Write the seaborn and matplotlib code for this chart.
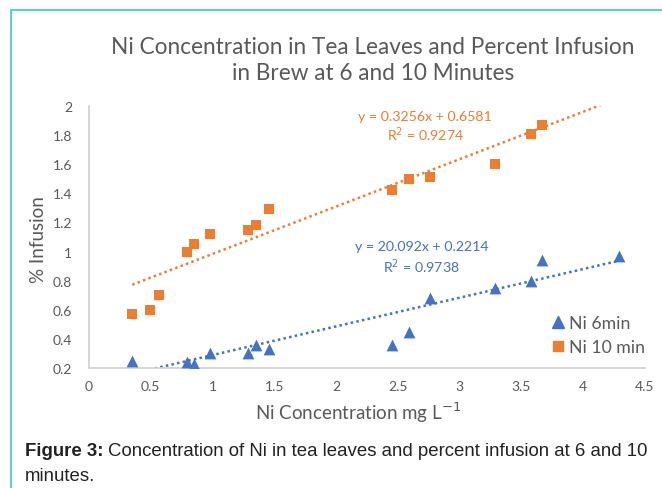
import numpy as np
import pandas as pd
import seaborn as sns
import matplotlib.pyplot as plt
from matplotlib.lines import Line2D

# Ni 10 min (orange squares)
x_10 = [0.35, 0.49, 0.57, 0.79, 0.85, 0.98, 1.29, 1.35, 1.46, 2.45, 2.59, 2.76, 3.29, 3.58, 3.67]
y_10 = [0.57, 0.60, 0.70, 1.00, 1.05, 1.12, 1.15, 1.18, 1.29, 1.42, 1.50, 1.51, 1.60, 1.81, 1.87]

# Ni 6min (blue triangles)
x_6 = [0.35, 0.79, 0.85, 0.98, 1.29, 1.35, 1.46, 2.45, 2.59, 2.76, 3.29, 3.58, 3.67, 4.29]
y_6 = [0.25, 0.24, 0.225, 0.30, 0.30, 0.36, 0.33, 0.36, 0.45, 0.68, 0.75, 0.80, 0.94, 0.97]

# trendlines as drawn (slope, intercept, x range)
trend_10 = (0.3256, 0.6581, [0.35, 4.15])
trend_6 = (0.197, 0.092, [0.35, 4.29])

eq_10 = ["y = 0.3256x + 0.6581", "R$^2$ = 0.9274"]
eq_6 = ["y = 20.092x + 0.2214", "R$^2$ = 0.9738"]

x_ticks = [0, 0.5, 1, 1.5, 2, 2.5, 3, 3.5, 4, 4.5]
y_ticks = [0.2, 0.4, 0.6, 0.8, 1, 1.2, 1.4, 1.6, 1.8, 2]

blue = '#4472C4'
orange = '#ED7D31'
grey = '#595959'

sns.set_style('white')
plt.rcParams['font.family'] = ['Lato', 'DejaVu Sans']

fig = plt.figure(figsize=(6.62, 4.89), dpi=100)
ax = fig.add_axes([89 / 662, 1 - 369 / 489, 556 / 662, 262 / 489])

# trendlines
for (m, b, xr), c in [(trend_10, orange), (trend_6, blue)]:
    xs = np.array(xr)
    sns.lineplot(x=xs, y=m * xs + b, ax=ax, color=c, linestyle=(0, (1, 1.3)),
                 linewidth=1.8, zorder=2)

sns.scatterplot(x=x_6, y=y_6, ax=ax, marker='^', s=72, color=blue,
                edgecolor=blue, linewidth=0, zorder=3)
sns.scatterplot(x=x_10, y=y_10, ax=ax, marker='s', s=50, color=orange,
                edgecolor=orange, linewidth=0, zorder=3)

ax.set_xlim(0, 4.5)
ax.set_ylim(0.2, 2)
ax.set_xticks(x_ticks)
ax.set_xticklabels([f'{t:g}' for t in x_ticks])
ax.set_yticks(y_ticks)
ax.set_yticklabels([f'{t:g}' for t in y_ticks])
ax.tick_params(axis='both', length=0, labelsize=10, colors=grey)
ax.tick_params(axis='x', pad=8.5)
ax.tick_params(axis='y', pad=12)
for s in ['top', 'right']:
    ax.spines[s].set_visible(False)
for s in ['left', 'bottom']:
    ax.spines[s].set_color('#d0d0d0')
    ax.spines[s].set_linewidth(1.2)

ax.set_xlabel('Ni Concentration mg L$^{-1}$', fontsize=13.5, color=grey)
ax.xaxis.set_label_coords((358 - 89) / 556, -(413 - 369) / 262)
ax.xaxis.label.set_va('center')
ax.set_ylabel('% Infusion', fontsize=13.5, color=grey)
ax.yaxis.set_label_coords(-(89 - 38) / 556, (369 - 240) / 262)
ax.yaxis.label.set_va('center')

ax.text(2.72, 1.93, eq_10[0], color=orange, fontsize=10.2, ha='center', va='center')
ax.text(2.72, 1.81, eq_10[1], color=orange, fontsize=10.2, ha='center', va='center')
ax.text(2.69, 1.035, eq_6[0], color=blue, fontsize=10.2, ha='center', va='center')
ax.text(2.69, 0.905, eq_6[1], color=blue, fontsize=10.2, ha='center', va='center')

handles = [Line2D([], [], marker='^', color=blue, linestyle='', markersize=8),
           Line2D([], [], marker='s', color=orange, linestyle='', markersize=6.5)]
leg = ax.legend(handles, ['Ni 6min', 'Ni 10 min'], loc='center left',
                bbox_to_anchor=((550 - 89) / 556, 0.125), frameon=False, fontsize=12.7,
                handletextpad=0.2, handlelength=0.9, labelspacing=0.45,
                borderaxespad=0, borderpad=0)
for t in leg.get_texts():
    t.set_color(grey)

fig.text(373 / 662, 1 - 47 / 489, 'Ni Concentration in Tea Leaves and Percent Infusion',
         fontsize=16.3, color=grey, ha='center', va='center')
fig.text(373 / 662, 1 - 73 / 489, 'in Brew at 6 and 10 Minutes',
         fontsize=16.3, color=grey, ha='center', va='center')

# caption
cap = fig.text(25 / 662, 1 - 452 / 489, 'Figure 3:', fontsize=13.4, fontweight='bold',
               family='Liberation Sans', color='#222222', va='center')
fig.canvas.draw()
bb = cap.get_window_extent()
fig.text(bb.x1 / 662 + 4 / 662, 1 - 452 / 489,
         'Concentration of Ni in tea leaves and percent infusion at 6 and 10',
         fontsize=13.4, family='Liberation Sans', color='#222222', va='center')
fig.text(25 / 662, 1 - 477 / 489, 'minutes.', fontsize=13.4,
         family='Liberation Sans', color='#222222', va='center')

# teal frame (left and top edges)
fig.add_artist(Line2D([10.5 / 662, 10.5 / 662], [0, 1 - 10.5 / 489], color='#5dd3bf',
                      linewidth=1.5, transform=fig.transFigure))
fig.add_artist(Line2D([10.5 / 662, 1], [1 - 10.5 / 489, 1 - 10.5 / 489], color='#5dd3bf',
                      linewidth=1.5, transform=fig.transFigure))

fig.savefig('out.png', dpi=100)
